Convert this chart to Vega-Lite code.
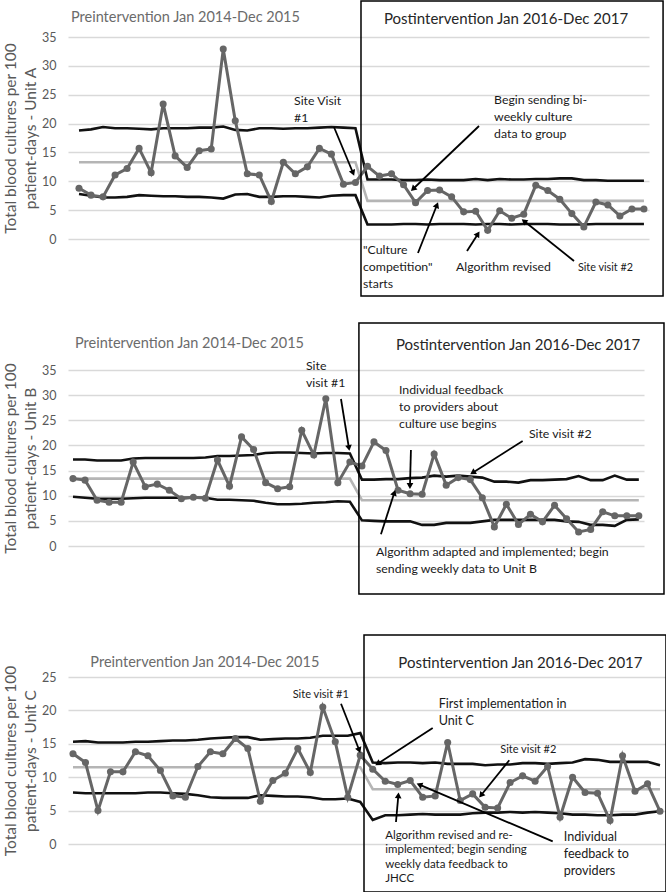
{
"$schema": "https://vega.github.io/schema/vega-lite/v6.json",
"autosize": {"type": "pad"},
"padding": {"left": 3, "top": 0, "right": 0, "bottom": 0},
"background": "white",
"config": {
 "view": {"stroke": null},
 "font": "Lato",
 "axisY": {"domain": false, "ticks": false, "grid": true, "gridColor": "#d9d9d9", "gridWidth": 1.3, "labelFont": "Lato", "labelFontSize": 12.5, "labelColor": "#595959", "labelPadding": 12, "titleFont": "Lato", "titleFontSize": 15.5, "titleFontWeight": "normal", "titleColor": "#595959", "titlePadding": 3, "titleLineHeight": 20}
},
"datasets": {
 "sA": [
  {"x":0,"y":8.8,"u":18.8,"l":7.8,"c":13.3},{"x":1,"y":7.6,"u":19.0,"l":7.5,"c":13.3},{"x":2,"y":7.3,"u":19.4,"l":7.2,"c":13.3},{"x":3,"y":11.1,"u":19.2,"l":7.2,"c":13.3},
  {"x":4,"y":12.2,"u":19.2,"l":7.3,"c":13.3},{"x":5,"y":15.7,"u":19.1,"l":7.6,"c":13.3},{"x":6,"y":11.5,"u":19.0,"l":7.5,"c":13.3},{"x":7,"y":23.4,"u":19.2,"l":7.4,"c":13.3},
  {"x":8,"y":14.4,"u":19.2,"l":7.4,"c":13.3},{"x":9,"y":12.4,"u":19.2,"l":7.3,"c":13.3},{"x":10,"y":15.3,"u":19.3,"l":7.3,"c":13.3},{"x":11,"y":15.6,"u":19.3,"l":7.2,"c":13.3},
  {"x":12,"y":32.9,"u":19.5,"l":7.0,"c":13.3},{"x":13,"y":20.5,"u":18.9,"l":7.7,"c":13.3},{"x":14,"y":11.3,"u":18.8,"l":7.8,"c":13.3},{"x":15,"y":11.1,"u":19.2,"l":7.3,"c":13.3},
  {"x":16,"y":6.5,"u":19.2,"l":7.3,"c":13.3},{"x":17,"y":13.3,"u":19.1,"l":7.4,"c":13.3},{"x":18,"y":11.3,"u":19.2,"l":7.4,"c":13.3},{"x":19,"y":12.5,"u":19.2,"l":7.3,"c":13.3},
  {"x":20,"y":15.7,"u":19.3,"l":7.2,"c":13.3},{"x":21,"y":14.7,"u":19.4,"l":7.5,"c":13.3},{"x":22,"y":9.5,"u":19.3,"l":7.6,"c":13.3},{"x":23,"y":9.8,"u":19.2,"l":7.6,"c":13.3},
  {"x":24,"y":12.6,"u":10.3,"l":2.5,"c":6.6},{"x":25,"y":10.9,"u":10.3,"l":2.5,"c":6.6},{"x":26,"y":11.3,"u":10.3,"l":2.5,"c":6.6},{"x":27,"y":9.4,"u":10.2,"l":2.6,"c":6.6},
  {"x":28,"y":6.3,"u":10.2,"l":2.6,"c":6.6},{"x":29,"y":8.4,"u":10.3,"l":2.5,"c":6.6},{"x":30,"y":8.5,"u":10.2,"l":2.6,"c":6.6},{"x":31,"y":7.3,"u":10.2,"l":2.6,"c":6.6},
  {"x":32,"y":4.7,"u":10.2,"l":2.6,"c":6.6},{"x":33,"y":4.8,"u":10.4,"l":2.5,"c":6.6},{"x":34,"y":1.5,"u":10.2,"l":2.6,"c":6.6},{"x":35,"y":4.9,"u":10.4,"l":2.6,"c":6.6},
  {"x":36,"y":3.6,"u":10.3,"l":2.5,"c":6.6},{"x":37,"y":4.3,"u":10.3,"l":2.6,"c":6.6},{"x":38,"y":9.3,"u":10.4,"l":2.6,"c":6.6},{"x":39,"y":8.4,"u":10.4,"l":2.6,"c":6.6},
  {"x":40,"y":6.9,"u":10.5,"l":2.5,"c":6.6},{"x":41,"y":4.4,"u":10.5,"l":2.5,"c":6.6},{"x":42,"y":2.1,"u":10.2,"l":2.5,"c":6.6},{"x":43,"y":6.4,"u":10.2,"l":2.6,"c":6.6},
  {"x":44,"y":5.9,"u":10.1,"l":2.6,"c":6.6},{"x":45,"y":4.0,"u":10.1,"l":2.6,"c":6.6},{"x":46,"y":5.2,"u":10.1,"l":2.6,"c":6.6},{"x":47,"y":5.2,"u":10.1,"l":2.6,"c":6.6}
 ],
 "tA": [
  {"x":-0.67,"y":39.42,"t":"Preintervention Jan 2014-Dec 2015","r":"pre"},
  {"x":25.37,"y":39.3,"t":"Postintervention Jan 2016-Dec 2017","r":"post"},
  {"x":17.89,"y":24.95,"t":"Site Visit\n#1","r":"L"},
  {"x":34.53,"y":25.13,"t":"Begin sending bi-\nweekly culture\ndata to group","r":"L"},
  {"x":23.63,"y":-0.87,"t":"\"Culture\ncompetition\"\n starts","r":"L"},
  {"x":31.36,"y":-3.81,"t":"Algorithm revised","r":"L"},
  {"x":41.51,"y":-3.99,"t":"Site visit #2","r":"S"}
 ],
 "aA": [
  {"x":21.21,"y":19.41,"x2":22.80,"y2":11.44,"a":157.6},
  {"x":33.28,"y":19.58,"x2":27.79,"y2":8.66,"a":226.3},
  {"x":28.20,"y":-2.43,"x2":29.78,"y2":5.89,"a":21.6},
  {"x":32.28,"y":-2.08,"x2":33.19,"y2":0.87,"a":32.9},
  {"x":41.18,"y":-3.81,"x2":37.02,"y2":3.12,"a":308.7}
 ],
 "bA": [{"x":23.46,"x2":48.59,"y":41.24,"y2":-9.88}],
 "sB": [
  {"x":0,"y":13.4,"u":17.2,"l":9.8,"c":13.4},{"x":1,"y":13.1,"u":17.2,"l":9.6,"c":13.4},{"x":2,"y":9.1,"u":17.0,"l":9.4,"c":13.4},{"x":3,"y":8.7,"u":17.0,"l":9.4,"c":13.4},
  {"x":4,"y":8.7,"u":17.0,"l":9.4,"c":13.4},{"x":5,"y":16.7,"u":17.4,"l":9.5,"c":13.4},{"x":6,"y":11.8,"u":17.5,"l":9.6,"c":13.4},{"x":7,"y":12.3,"u":17.5,"l":9.6,"c":13.4},
  {"x":8,"y":11.1,"u":17.5,"l":9.6,"c":13.4},{"x":9,"y":9.4,"u":17.5,"l":9.6,"c":13.4},{"x":10,"y":9.7,"u":17.5,"l":9.6,"c":13.4},{"x":11,"y":9.5,"u":17.6,"l":9.6,"c":13.4},
  {"x":12,"y":17.1,"u":17.9,"l":9.2,"c":13.4},{"x":13,"y":11.9,"u":17.9,"l":9.2,"c":13.4},{"x":14,"y":21.7,"u":18.0,"l":9.1,"c":13.4},{"x":15,"y":19.2,"u":18.1,"l":9.0,"c":13.4},
  {"x":16,"y":12.6,"u":18.5,"l":8.6,"c":13.4},{"x":17,"y":11.4,"u":18.6,"l":8.3,"c":13.4},{"x":18,"y":11.8,"u":18.6,"l":8.3,"c":13.4},{"x":19,"y":23.0,"u":18.5,"l":8.4,"c":13.4},
  {"x":20,"y":18.1,"u":18.4,"l":8.6,"c":13.4},{"x":21,"y":29.3,"u":18.5,"l":8.7,"c":13.4},{"x":22,"y":12.6,"u":18.5,"l":8.9,"c":13.4},{"x":23,"y":16.7,"u":18.4,"l":8.8,"c":13.4},
  {"x":24,"y":15.9,"u":13.2,"l":5.1,"c":9.1},{"x":25,"y":20.7,"u":13.2,"l":5.0,"c":9.1},{"x":26,"y":19.0,"u":13.3,"l":4.9,"c":9.1},{"x":27,"y":11.1,"u":13.3,"l":4.9,"c":9.1},
  {"x":28,"y":10.4,"u":13.5,"l":4.9,"c":9.1},{"x":29,"y":10.3,"u":13.6,"l":4.2,"c":9.1},{"x":30,"y":18.3,"u":14.0,"l":4.2,"c":9.1},{"x":31,"y":12.1,"u":13.8,"l":4.6,"c":9.1},
  {"x":32,"y":13.6,"u":14.0,"l":4.6,"c":9.1},{"x":33,"y":13.2,"u":13.8,"l":4.6,"c":9.1},{"x":34,"y":9.6,"u":13.6,"l":4.9,"c":9.1},{"x":35,"y":3.8,"u":12.8,"l":5.2,"c":9.1},
  {"x":36,"y":8.3,"u":12.8,"l":5.2,"c":9.1},{"x":37,"y":4.3,"u":12.6,"l":5.2,"c":9.1},{"x":38,"y":6.3,"u":13.1,"l":5.2,"c":9.1},{"x":39,"y":4.8,"u":13.1,"l":5.2,"c":9.1},
  {"x":40,"y":8.1,"u":13.2,"l":5.2,"c":9.1},{"x":41,"y":5.4,"u":13.3,"l":4.9,"c":9.1},{"x":42,"y":2.8,"u":13.9,"l":4.8,"c":9.1},{"x":43,"y":3.3,"u":13.1,"l":4.2,"c":9.1},
  {"x":44,"y":6.8,"u":13.1,"l":4.2,"c":9.1},{"x":45,"y":6.0,"u":14.0,"l":4.0,"c":9.1},{"x":46,"y":6.0,"u":13.2,"l":5.2,"c":9.1},{"x":47,"y":6.0,"u":13.2,"l":5.3,"c":9.1}
 ],
 "tB": [
  {"x":0.17,"y":41.56,"t":"Preintervention Jan 2014-Dec 2015","r":"pre"},
  {"x":26.83,"y":41.36,"t":"Postintervention Jan 2016-Dec 2017","r":"post"},
  {"x":19.35,"y":36.99,"t":"Site\nvisit #1","r":"L"},
  {"x":27.08,"y":32.21,"t":"Individual feedback\nto providers about\nculture use begins","r":"L"},
  {"x":37.87,"y":23.46,"t":"Site visit #2","r":"L"},
  {"x":25.17,"y":0.0,"t":"Algorithm adapted and implemented; begin\nsending weekly data to Unit B","r":"L"}
 ],
 "aB": [
  {"x":22.26,"y":29.23,"x2":22.92,"y2":19.49,"a":170.5},
  {"x":28.07,"y":19.09,"x2":27.99,"y2":11.93,"a":180},
  {"x":37.35,"y":20.88,"x2":33.2,"y2":14.58,"a":237.7},
  {"x":25.58,"y":2.33,"x2":26.69,"y2":10.6,"a":17.7}
 ],
 "bB": [{"x":23.75,"x2":49.09,"y":44.34,"y2":-9.54}],
 "sC": [
  {"x":0,"y":13.5,"u":15.3,"l":7.7,"c":11.5},{"x":1,"y":12.2,"u":15.4,"l":7.6,"c":11.5},{"x":2,"y":5.0,"u":15.2,"l":7.6,"c":11.5},{"x":3,"y":10.8,"u":15.2,"l":7.6,"c":11.5},
  {"x":4,"y":10.8,"u":15.2,"l":7.6,"c":11.5},{"x":5,"y":13.8,"u":15.3,"l":7.6,"c":11.5},{"x":6,"y":13.2,"u":15.3,"l":7.7,"c":11.5},{"x":7,"y":11.0,"u":15.4,"l":7.7,"c":11.5},
  {"x":8,"y":7.2,"u":15.5,"l":7.6,"c":11.5},{"x":9,"y":7.0,"u":15.5,"l":7.5,"c":11.5},{"x":10,"y":11.6,"u":15.6,"l":7.3,"c":11.5},{"x":11,"y":13.8,"u":15.8,"l":7.0,"c":11.5},
  {"x":12,"y":13.5,"u":15.9,"l":6.9,"c":11.5},{"x":13,"y":15.8,"u":16.0,"l":6.9,"c":11.5},{"x":14,"y":14.3,"u":16.0,"l":6.9,"c":11.5},{"x":15,"y":6.4,"u":15.6,"l":7.3,"c":11.5},
  {"x":16,"y":9.5,"u":15.7,"l":7.2,"c":11.5},{"x":17,"y":10.6,"u":15.8,"l":7.1,"c":11.5},{"x":18,"y":14.3,"u":15.8,"l":7.1,"c":11.5},{"x":19,"y":10.7,"u":15.9,"l":7.0,"c":11.5},
  {"x":20,"y":20.5,"u":16.2,"l":6.7,"c":11.5},{"x":21,"y":15.3,"u":16.2,"l":6.7,"c":11.5},{"x":22,"y":7.0,"u":16.2,"l":6.8,"c":11.5},{"x":23,"y":13.3,"u":16.6,"l":6.3,"c":11.5},
  {"x":24,"y":11.2,"u":12.2,"l":3.6,"c":8.2},{"x":25,"y":9.4,"u":12.1,"l":4.3,"c":8.2},{"x":26,"y":8.9,"u":12.2,"l":4.3,"c":8.2},{"x":27,"y":9.5,"u":12.2,"l":4.4,"c":8.2},
  {"x":28,"y":7.0,"u":12.1,"l":4.5,"c":8.2},{"x":29,"y":7.2,"u":12.2,"l":4.4,"c":8.2},{"x":30,"y":15.2,"u":12.0,"l":4.4,"c":8.2},{"x":31,"y":6.5,"u":12.0,"l":4.4,"c":8.2},
  {"x":32,"y":7.5,"u":12.0,"l":4.6,"c":8.2},{"x":33,"y":5.5,"u":11.8,"l":4.7,"c":8.2},{"x":34,"y":5.4,"u":11.9,"l":4.7,"c":8.2},{"x":35,"y":9.2,"u":11.9,"l":4.8,"c":8.2},
  {"x":36,"y":10.2,"u":12.1,"l":4.7,"c":8.2},{"x":37,"y":9.4,"u":12.1,"l":4.8,"c":8.2},{"x":38,"y":11.6,"u":12.0,"l":4.7,"c":8.2},{"x":39,"y":4.0,"u":12.1,"l":4.6,"c":8.2},
  {"x":40,"y":10.0,"u":12.2,"l":4.4,"c":8.2},{"x":41,"y":7.7,"u":12.7,"l":4.4,"c":8.2},{"x":42,"y":7.6,"u":12.6,"l":4.3,"c":8.2},{"x":43,"y":3.5,"u":12.3,"l":4.3,"c":8.2},
  {"x":44,"y":13.2,"u":12.3,"l":4.4,"c":8.2},{"x":45,"y":7.9,"u":12.3,"l":4.4,"c":8.2},{"x":46,"y":9.0,"u":12.3,"l":4.7,"c":8.2},{"x":47,"y":4.9,"u":11.8,"l":4.9,"c":8.2}
 ],
 "tC": [
  {"x":1.39,"y":28.14,"t":"Preintervention Jan 2014-Dec 2015","r":"pre"},
  {"x":26.05,"y":28.14,"t":"Postintervention Jan 2016-Dec 2017","r":"post"},
  {"x":17.59,"y":23.2,"t":"Site visit #1","r":"S"},
  {"x":29.28,"y":21.86,"t":"First implementation in\nUnit C","r":"L"},
  {"x":34.21,"y":14.97,"t":"Site visit #2","r":"S"},
  {"x":25.0,"y":2.1,"t":"Algorithm revised and re-\nimplemented; begin sending\nweekly data feedback to\nJHCC","r":"M"},
  {"x":39.29,"y":1.95,"t":"Individual\nfeedback to\nproviders","r":"L"}
 ],
 "aC": [
  {"x":21.46,"y":21.0,"x2":22.92,"y2":14.03,"a":158.6},
  {"x":28.8,"y":17.37,"x2":24.4,"y2":12.02,"a":237},
  {"x":34.93,"y":12.53,"x2":32.67,"y2":7.29,"a":219},
  {"x":25.86,"y":3.29,"x2":26.05,"y2":7.29,"a":4},
  {"x":38.41,"y":0.4,"x2":27.73,"y2":8.88,"a":293}
 ],
 "bC": [{"x":23.30,"x2":47.48,"y":31.29,"y2":-7.19}]
},
"vconcat": [
 {
  "width": 581, "height": 202,
  "encoding": {
   "x": {"field": "x", "type": "quantitative", "scale": {"domain": [-0.915, 47.42], "nice": false, "zero": false}, "axis": null},
   "y": {"field": "y", "type": "quantitative", "scale": {"domain": [0, 35], "nice": false, "zero": false}, "axis": {"values": [0,5,10,15,20,25,30,35], "title": ["Total blood cultures per 100", "patient-days - Unit A"]}}
  },
  "resolve": {"scale": {"color": "independent", "size": "independent"}},
  "layer": [
   {"data": {"name": "sA"}, "transform": [{"fold": ["c","u","l"], "as": ["k","y"]}], "mark": {"type": "line", "strokeWidth": 2.6}, "encoding": {"color": {"field": "k", "type": "nominal", "scale": {"domain": ["c","u","l"], "range": ["#b5b5b5","#111111","#111111"]}, "legend": null}}},
   {"data": {"name": "sA"}, "mark": {"type": "line", "color": "#666666", "strokeWidth": 3}},
   {"data": {"name": "sA"}, "mark": {"type": "point", "filled": true, "color": "#666666", "size": 50, "opacity": 1}},
   {"data": {"name": "bA"}, "mark": {"type": "rect", "fillOpacity": 0, "stroke": "#000000", "strokeWidth": 1.5}, "encoding": {"x2": {"field": "x2"}, "y2": {"field": "y2"}}},
   {"data": {"name": "aA"}, "mark": {"type": "rule", "color": "#000000", "strokeWidth": 1.8}, "encoding": {"x2": {"field": "x2"}, "y2": {"field": "y2"}}},
   {"data": {"name": "aA"}, "mark": {"type": "point", "shape": "triangle-up", "filled": true, "color": "#000000", "size": 45, "opacity": 1}, "encoding": {"x": {"field": "x2", "type": "quantitative"}, "y": {"field": "y2", "type": "quantitative"}, "angle": {"field": "a", "type": "quantitative", "scale": null}}},
   {"data": {"name": "tA"}, "transform": [{"filter": "datum.r == 'pre'"}], "mark": {"type": "text", "align": "left", "baseline": "top", "font": "Lato", "fontSize": 14.5, "color": "#6b6b6b"}, "encoding": {"text": {"field": "t"}}},
   {"data": {"name": "tA"}, "transform": [{"filter": "datum.r == 'post'"}], "mark": {"type": "text", "align": "left", "baseline": "top", "font": "Lato", "fontSize": 15, "color": "#262626"}, "encoding": {"text": {"field": "t"}}},
   {"data": {"name": "tA"}, "transform": [{"filter": "datum.r == 'L'"}], "mark": {"type": "text", "align": "left", "baseline": "top", "lineBreak": "\n", "lineHeight": 17, "font": "Lato", "fontSize": 12.3, "color": "#1a1a1a"}, "encoding": {"text": {"field": "t"}}},
   {"data": {"name": "tA"}, "transform": [{"filter": "datum.r == 'S'"}], "mark": {"type": "text", "align": "left", "baseline": "top", "font": "Lato", "fontSize": 10.8, "color": "#1a1a1a"}, "encoding": {"text": {"field": "t"}}}
  ]
 },
 {
  "width": 576, "height": 176,
  "encoding": {
   "x": {"field": "x", "type": "quantitative", "scale": {"domain": [-0.415, 47.43], "nice": false, "zero": false}, "axis": null},
   "y": {"field": "y", "type": "quantitative", "scale": {"domain": [0, 35], "nice": false, "zero": false}, "axis": {"values": [0,5,10,15,20,25,30,35], "title": ["Total blood cultures per 100", "patient-days - Unit B"]}}
  },
  "resolve": {"scale": {"color": "independent", "size": "independent"}},
  "layer": [
   {"data": {"name": "sB"}, "transform": [{"fold": ["c","u","l"], "as": ["k","y"]}], "mark": {"type": "line", "strokeWidth": 2.6}, "encoding": {"color": {"field": "k", "type": "nominal", "scale": {"domain": ["c","u","l"], "range": ["#b5b5b5","#111111","#111111"]}, "legend": null}}},
   {"data": {"name": "sB"}, "mark": {"type": "line", "color": "#666666", "strokeWidth": 3}},
   {"data": {"name": "sB"}, "mark": {"type": "point", "filled": true, "color": "#666666", "size": 50, "opacity": 1}},
   {"data": {"name": "bB"}, "mark": {"type": "rect", "fillOpacity": 0, "stroke": "#000000", "strokeWidth": 1.5}, "encoding": {"x2": {"field": "x2"}, "y2": {"field": "y2"}}},
   {"data": {"name": "aB"}, "mark": {"type": "rule", "color": "#000000", "strokeWidth": 1.8}, "encoding": {"x2": {"field": "x2"}, "y2": {"field": "y2"}}},
   {"data": {"name": "aB"}, "mark": {"type": "point", "shape": "triangle-up", "filled": true, "color": "#000000", "size": 45, "opacity": 1}, "encoding": {"x": {"field": "x2", "type": "quantitative"}, "y": {"field": "y2", "type": "quantitative"}, "angle": {"field": "a", "type": "quantitative", "scale": null}}},
   {"data": {"name": "tB"}, "transform": [{"filter": "datum.r == 'pre'"}], "mark": {"type": "text", "align": "left", "baseline": "top", "font": "Lato", "fontSize": 14.5, "color": "#6b6b6b"}, "encoding": {"text": {"field": "t"}}},
   {"data": {"name": "tB"}, "transform": [{"filter": "datum.r == 'post'"}], "mark": {"type": "text", "align": "left", "baseline": "top", "font": "Lato", "fontSize": 15, "color": "#262626"}, "encoding": {"text": {"field": "t"}}},
   {"data": {"name": "tB"}, "transform": [{"filter": "datum.r == 'L'"}], "mark": {"type": "text", "align": "left", "baseline": "top", "lineBreak": "\n", "lineHeight": 17, "font": "Lato", "fontSize": 12.3, "color": "#1a1a1a"}, "encoding": {"text": {"field": "t"}}}
  ]
 },
 {
  "width": 598, "height": 167,
  "encoding": {
   "x": {"field": "x", "type": "quantitative", "scale": {"domain": [-0.40, 47.48], "nice": false, "zero": false}, "axis": null},
   "y": {"field": "y", "type": "quantitative", "scale": {"domain": [0, 25], "nice": false, "zero": false}, "axis": {"values": [0,5,10,15,20,25], "title": ["Total blood cultures per 100", "patient-days - Unit C"]}}
  },
  "resolve": {"scale": {"color": "independent", "size": "independent"}},
  "layer": [
   {"data": {"name": "sC"}, "transform": [{"fold": ["c","u","l"], "as": ["k","y"]}], "mark": {"type": "line", "strokeWidth": 2.6}, "encoding": {"color": {"field": "k", "type": "nominal", "scale": {"domain": ["c","u","l"], "range": ["#b5b5b5","#111111","#111111"]}, "legend": null}}},
   {"data": {"name": "sC"}, "mark": {"type": "line", "color": "#666666", "strokeWidth": 3}},
   {"data": {"name": "sC"}, "mark": {"type": "point", "filled": true, "color": "#666666", "size": 50, "opacity": 1}},
   {"data": {"name": "bC"}, "mark": {"type": "rect", "fillOpacity": 0, "stroke": "#000000", "strokeWidth": 1.5}, "encoding": {"x2": {"field": "x2"}, "y2": {"field": "y2"}}},
   {"data": {"name": "aC"}, "mark": {"type": "rule", "color": "#000000", "strokeWidth": 1.8}, "encoding": {"x2": {"field": "x2"}, "y2": {"field": "y2"}}},
   {"data": {"name": "aC"}, "mark": {"type": "point", "shape": "triangle-up", "filled": true, "color": "#000000", "size": 45, "opacity": 1}, "encoding": {"x": {"field": "x2", "type": "quantitative"}, "y": {"field": "y2", "type": "quantitative"}, "angle": {"field": "a", "type": "quantitative", "scale": null}}},
   {"data": {"name": "tC"}, "transform": [{"filter": "datum.r == 'pre'"}], "mark": {"type": "text", "align": "left", "baseline": "top", "font": "Lato", "fontSize": 14.5, "color": "#6b6b6b"}, "encoding": {"text": {"field": "t"}}},
   {"data": {"name": "tC"}, "transform": [{"filter": "datum.r == 'post'"}], "mark": {"type": "text", "align": "left", "baseline": "top", "font": "Lato", "fontSize": 15, "color": "#262626"}, "encoding": {"text": {"field": "t"}}},
   {"data": {"name": "tC"}, "transform": [{"filter": "datum.r == 'L'"}], "mark": {"type": "text", "align": "left", "baseline": "top", "lineBreak": "\n", "lineHeight": 17, "font": "Lato", "fontSize": 12.6, "color": "#1a1a1a"}, "encoding": {"text": {"field": "t"}}},
   {"data": {"name": "tC"}, "transform": [{"filter": "datum.r == 'S'"}], "mark": {"type": "text", "align": "left", "baseline": "top", "font": "Lato", "fontSize": 11, "color": "#1a1a1a"}, "encoding": {"text": {"field": "t"}}},
   {"data": {"name": "tC"}, "transform": [{"filter": "datum.r == 'M'"}], "mark": {"type": "text", "align": "left", "baseline": "top", "lineBreak": "\n", "lineHeight": 14.5, "font": "Lato", "fontSize": 11.5, "color": "#1a1a1a"}, "encoding": {"text": {"field": "t"}}}
  ]
 }
],
"spacing": 131,
"bounds": "flush"
}
